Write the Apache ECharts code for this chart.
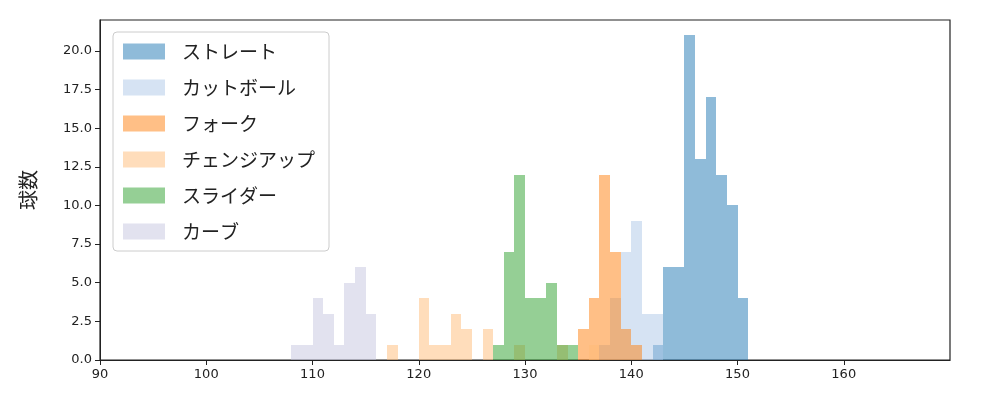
<!DOCTYPE html>
<html>
<head>
<meta charset="utf-8">
<script src="https://cdn.jsdelivr.net/npm/echarts@6/dist/echarts.min.js"></script>
<style>html,body{margin:0;padding:0;background:#fff}#chart{width:1000px;height:400px}</style>
</head>
<body>
<div id="chart"></div>
<script>
// 球種名
const pitchNames = ['ストレート', 'カットボール', 'フォーク', 'チェンジアップ', 'スライダー', 'カーブ'];
const pitchColors = ['#1f77b4', '#aec7e8', '#ff7f0e', '#ffbb78', '#2ca02c', '#c5c5e0'];

// [ビン開始 km/h, 球数]
const straight = [[142, 1], [143, 6], [144, 6], [145, 21], [146, 13], [147, 17], [148, 12], [149, 10], [150, 4]];
const cutter = [[137, 1], [138, 4], [139, 7], [140, 9], [141, 3], [142, 3]];
const fork = [[135, 2], [136, 4], [137, 12], [138, 7], [139, 2], [140, 1]];
const changeup = [[117, 1], [120, 4], [121, 1], [122, 1], [123, 3], [124, 2], [126, 2], [129, 1], [133, 1], [136, 1]];
const slider = [[127, 1], [128, 7], [129, 12], [130, 4], [131, 4], [132, 5], [133, 1], [134, 1]];
const curve = [[108, 1], [109, 1], [110, 4], [111, 3], [112, 1], [113, 5], [114, 6], [115, 3]];

const seriesData = [straight, cutter, fork, changeup, slider, curve];
const binWidth = 1;

const chart = echarts.init(document.getElementById('chart'));

// ビンを矩形で描く（継ぎ目が出ないよう整数座標に丸める）
function renderBin(params, api) {
    const x = api.value(0);
    const h = api.value(1);
    const p0 = api.coord([x, 0]);
    const p1 = api.coord([x + binWidth, h]);
    const x0 = Math.round(p0[0]), x1 = Math.round(p1[0]);
    const y0 = Math.round(p0[1]), y1 = Math.round(p1[1]);
    return {
        type: 'rect',
        shape: { x: x0, y: y1, width: x1 - x0, height: y0 - y1 },
        style: { fill: api.visual('color'), opacity: 0.5 }
    };
}

chart.setOption({
    animation: false,
    textStyle: { fontFamily: 'DejaVu Sans, Noto Sans CJK JP' },
    grid: { left: 100, right: 50, top: 20, bottom: 40, show: true, borderColor: '#222', borderWidth: 1.2, backgroundColor: 'transparent' },
    xAxis: {
        type: 'value', min: 90, max: 170, interval: 10,
        axisLine: { onZero: false, lineStyle: { color: '#222' } },
        axisTick: { lineStyle: { color: '#222' } },
        axisLabel: { color: '#222', fontSize: 13, showMaxLabel: false },
        splitLine: { show: false }
    },
    yAxis: {
        type: 'value', min: 0, max: 22, interval: 2.5,
        name: '球数', nameLocation: 'middle', nameGap: 62,
        nameTextStyle: { fontSize: 20, color: '#222', fontFamily: 'Noto Sans CJK JP' },
        axisLine: { show: true, lineStyle: { color: '#222' } },
        axisTick: { show: true, lineStyle: { color: '#222' } },
        axisLabel: { color: '#222', fontSize: 13, formatter: v => v.toFixed(1), showMaxLabel: false },
        splitLine: { show: false }
    },
    legend: {
        orient: 'vertical', left: 113, top: 32,
        itemWidth: 42, itemHeight: 16, itemGap: 17,
        padding: [10, 14, 10, 10],
        backgroundColor: '#fff', borderColor: '#ccc', borderWidth: 1, borderRadius: 4,
        textStyle: { fontSize: 19, color: '#222', fontFamily: 'Noto Sans CJK JP', padding: [0, 0, 0, 12] },
        data: pitchNames.map((n, i) => ({ name: n, icon: 'rect', itemStyle: { color: pitchColors[i], opacity: 0.5 } }))
    },
    series: seriesData.map((d, i) => ({
        name: pitchNames[i],
        type: 'custom',
        renderItem: renderBin,
        itemStyle: { color: pitchColors[i] },
        encode: { x: 0, y: 1 },
        data: d
    }))
});
</script>
</body>
</html>
